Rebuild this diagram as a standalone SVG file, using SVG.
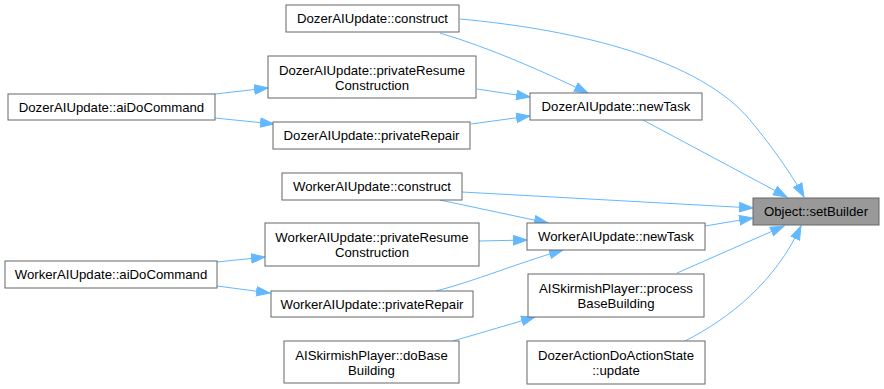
<svg xmlns="http://www.w3.org/2000/svg" width="884" height="389" viewBox="0 0 884 389">
  <style>
    .node rect { fill: #ffffff; stroke: #666666; stroke-width: 1; }
    .node.current rect { fill: #999999; }
    .node text { font-family: "Liberation Sans", Arial, sans-serif; font-size: 13.2px; fill: #000000; text-anchor: middle; }
    .edge { fill: none; stroke: #63b8ff; stroke-width: 1; marker-end: url(#arrow); }
  </style>
  <defs>
    <marker id="arrow" markerUnits="userSpaceOnUse" markerWidth="15" markerHeight="11" refX="14" refY="5.5" orient="auto">
      <path d="M0.5,0.8 L14,5.5 L0.5,10.2 z" fill="#63b8ff" stroke="#63b8ff" stroke-width="1"/>
    </marker>
  </defs>
  <rect width="884" height="389" fill="#ffffff"/>

  <g id="edges">
    <path class="edge" d="M460,19 C580,30 700,60 750,120 C775,150 795,180 804,197"/>
    <path class="edge" d="M440,33 C490,48 540,70 588,93"/>
    <path class="edge" d="M215,94 L268,88"/>
    <path class="edge" d="M215,118 L274,124"/>
    <path class="edge" d="M477,89 L530,97"/>
    <path class="edge" d="M471,124 L530,116"/>
    <path class="edge" d="M643,120 L787,197"/>
    <path class="edge" d="M462,192 L753,208"/>
    <path class="edge" d="M440,200 L548,223"/>
    <path class="edge" d="M479,241 L527,240"/>
    <path class="edge" d="M217,262 L265,257"/>
    <path class="edge" d="M217,286 L270,293"/>
    <path class="edge" d="M436,291 C475,281 515,264 563,250"/>
    <path class="edge" d="M705,226 L753,218"/>
    <path class="edge" d="M677,273 L784,226"/>
    <path class="edge" d="M453,341 L535,317"/>
    <path class="edge" d="M685,341 C730,318 775,282 801,226"/>
  </g>

  <g id="n_dozer_construct" class="node">
    <rect x="286" y="5" width="173" height="27"/>
    <text x="372.5" y="23">DozerAIUpdate::construct</text>
  </g>
  <g id="n_dozer_resume" class="node">
    <rect x="268" y="56" width="208" height="42"/>
    <text x="372" y="75">DozerAIUpdate::privateResume</text>
    <text x="372" y="90">Construction</text>
  </g>
  <g id="n_dozer_aidocommand" class="node">
    <rect x="8" y="94" width="207" height="26"/>
    <text x="111.5" y="112">DozerAIUpdate::aiDoCommand</text>
  </g>
  <g id="n_dozer_repair" class="node">
    <rect x="273" y="122" width="197" height="27"/>
    <text x="371.5" y="140">DozerAIUpdate::privateRepair</text>
  </g>
  <g id="n_dozer_newtask" class="node">
    <rect x="530" y="93" width="172" height="27"/>
    <text x="616" y="111">DozerAIUpdate::newTask</text>
  </g>
  <g id="n_setbuilder" class="node current">
    <rect x="753" y="198" width="126" height="27"/>
    <text x="816" y="216">Object::setBuilder</text>
  </g>
  <g id="n_worker_construct" class="node">
    <rect x="282" y="173" width="180" height="27"/>
    <text x="372" y="191">WorkerAIUpdate::construct</text>
  </g>
  <g id="n_worker_resume" class="node">
    <rect x="265" y="223" width="214" height="43"/>
    <text x="372" y="242">WorkerAIUpdate::privateResume</text>
    <text x="372" y="257">Construction</text>
  </g>
  <g id="n_worker_aidocommand" class="node">
    <rect x="5" y="261" width="212" height="27"/>
    <text x="111" y="279">WorkerAIUpdate::aiDoCommand</text>
  </g>
  <g id="n_worker_repair" class="node">
    <rect x="271" y="291" width="202" height="26"/>
    <text x="372" y="309">WorkerAIUpdate::privateRepair</text>
  </g>
  <g id="n_worker_newtask" class="node">
    <rect x="527" y="223" width="178" height="27"/>
    <text x="616" y="241">WorkerAIUpdate::newTask</text>
  </g>
  <g id="n_process_base" class="node">
    <rect x="528" y="274" width="176" height="43"/>
    <text x="616" y="293">AISkirmishPlayer::process</text>
    <text x="616" y="308">BaseBuilding</text>
  </g>
  <g id="n_do_base" class="node">
    <rect x="284" y="341" width="175" height="42"/>
    <text x="371.5" y="360">AISkirmishPlayer::doBase</text>
    <text x="371.5" y="375">Building</text>
  </g>
  <g id="n_dozer_action_update" class="node">
    <rect x="527" y="341" width="178" height="43"/>
    <text x="616" y="360">DozerActionDoActionState</text>
    <text x="616" y="375">::update</text>
  </g>
</svg>
